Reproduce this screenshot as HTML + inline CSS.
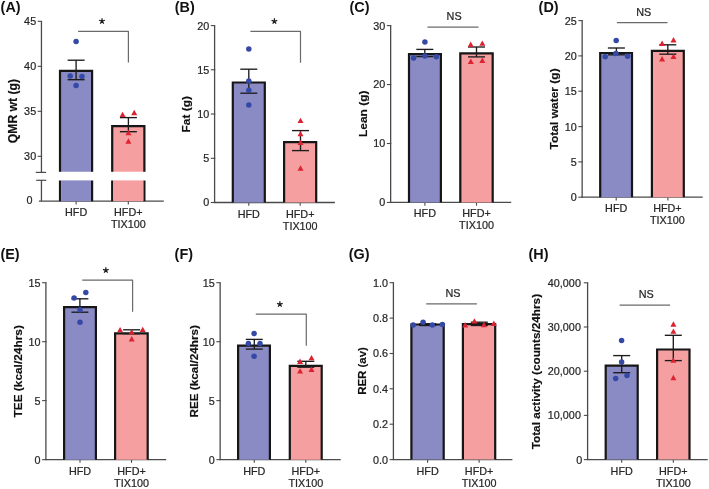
<!DOCTYPE html>
<html><head><meta charset="utf-8"><title>Figure</title>
<style>
html,body{margin:0;padding:0;background:#fff;}
body{width:709px;height:489px;overflow:hidden;}
svg{display:block;will-change:transform;font-family:"Liberation Sans", sans-serif;}
</style></head>
<body>
<svg width="709" height="489" viewBox="0 0 709 489">
<rect width="709" height="489" fill="#fff"/>
<text x="0.6" y="11.6" font-size="14.4" fill="#111" text-anchor="start" font-weight="bold" >(A)</text>
<line x1="41.45" y1="21.3" x2="41.45" y2="172.4" stroke="#4a4a4a" stroke-width="1.3"/>
<line x1="41.45" y1="180.2" x2="41.45" y2="201.2" stroke="#4a4a4a" stroke-width="1.3"/>
<line x1="37.65" y1="21.3" x2="42.1" y2="21.3" stroke="#4a4a4a" stroke-width="1.1"/>
<text transform="translate(36.15 25.2) scale(0.965 1)" font-size="11.2" fill="#262626" text-anchor="end" stroke="#262626" stroke-width="0.22">45</text>
<line x1="37.65" y1="66.3" x2="42.1" y2="66.3" stroke="#4a4a4a" stroke-width="1.1"/>
<text transform="translate(36.15 70.2) scale(0.965 1)" font-size="11.2" fill="#262626" text-anchor="end" stroke="#262626" stroke-width="0.22">40</text>
<line x1="37.65" y1="111.3" x2="42.1" y2="111.3" stroke="#4a4a4a" stroke-width="1.1"/>
<text transform="translate(36.15 115.2) scale(0.965 1)" font-size="11.2" fill="#262626" text-anchor="end" stroke="#262626" stroke-width="0.22">35</text>
<line x1="37.65" y1="156.3" x2="42.1" y2="156.3" stroke="#4a4a4a" stroke-width="1.1"/>
<text transform="translate(36.15 160.2) scale(0.965 1)" font-size="11.2" fill="#262626" text-anchor="end" stroke="#262626" stroke-width="0.22">30</text>
<text transform="translate(32.6 203.8) scale(0.965 1)" font-size="11.2" fill="#262626" text-anchor="end" stroke="#262626" stroke-width="0.22">0</text>
<line x1="35.8" y1="172.4" x2="46.1" y2="172.4" stroke="#4a4a4a" stroke-width="1.2"/>
<line x1="36.2" y1="180.3" x2="46.3" y2="180.3" stroke="#4a4a4a" stroke-width="1.2"/>
<line x1="38.9" y1="201.2" x2="163.8" y2="201.2" stroke="#4a4a4a" stroke-width="1.3"/>
<line x1="76.1" y1="201.2" x2="76.1" y2="204.4" stroke="#4a4a4a" stroke-width="1.1"/>
<line x1="128.3" y1="201.2" x2="128.3" y2="204.4" stroke="#4a4a4a" stroke-width="1.1"/>
<path d="M60 171.8 V70.9 H92.1 V171.8" fill="#8a8ac4" stroke="#161616" stroke-width="2.2"/>
<path d="M60 201.2 V180.4 M92.1 180.4 V201.2" fill="none" stroke="#161616" stroke-width="2.2"/>
<rect x="61.1" y="180.4" width="29.9" height="20.8" fill="#8a8ac4"/>
<path d="M112.2 171.8 V126.1 H144.4 V171.8" fill="#f59fa1" stroke="#161616" stroke-width="2.2"/>
<path d="M112.2 201.2 V180.4 M144.4 180.4 V201.2" fill="none" stroke="#161616" stroke-width="2.2"/>
<rect x="113.3" y="180.4" width="30" height="20.8" fill="#f59fa1"/>
<line x1="76.1" y1="60.2" x2="76.1" y2="79.7" stroke="#1c1c1c" stroke-width="1.35"/>
<line x1="67.6" y1="60.2" x2="84.6" y2="60.2" stroke="#1c1c1c" stroke-width="1.35"/>
<line x1="67.6" y1="79.7" x2="84.6" y2="79.7" stroke="#1c1c1c" stroke-width="1.35"/>
<circle cx="76.1" cy="41.6" r="2.75" fill="#3449a6"/>
<circle cx="70.2" cy="75.9" r="2.75" fill="#3449a6"/>
<circle cx="82" cy="76.5" r="2.75" fill="#3449a6"/>
<circle cx="76.1" cy="85.4" r="2.75" fill="#3449a6"/>
<line x1="128.4" y1="117.6" x2="128.4" y2="131.7" stroke="#1c1c1c" stroke-width="1.35"/>
<line x1="119.9" y1="117.6" x2="136.9" y2="117.6" stroke="#1c1c1c" stroke-width="1.35"/>
<line x1="119.9" y1="131.7" x2="136.9" y2="131.7" stroke="#1c1c1c" stroke-width="1.35"/>
<path d="M122.6 111.7 L125.6 117.1 L119.6 117.1Z" fill="#dd2230"/>
<path d="M134.2 109.8 L137.2 115.2 L131.2 115.2Z" fill="#dd2230"/>
<path d="M128.4 129.9 L131.4 135.3 L125.4 135.3Z" fill="#dd2230"/>
<path d="M128.4 138.3 L131.4 143.7 L125.4 143.7Z" fill="#dd2230"/>
<path d="M78.1 31.35 H128.4 V62.6" fill="none" stroke="#6a6a6a" stroke-width="1.2" stroke-linejoin="round"/>
<path d="M102 21.2 L102 18.2 M102 21.2 L104.85 20.27 M102 21.2 L103.76 23.63 M102 21.2 L100.24 23.63 M102 21.2 L99.15 20.27" stroke="#1e1e1e" stroke-width="1.25" fill="none"/>
<text transform="translate(17.1 111.1) rotate(-90)" x="0" y="0" font-size="12.6" font-weight="bold" fill="#111" stroke="#111" stroke-width="0.15" text-anchor="middle" textLength="64.1" lengthAdjust="spacingAndGlyphs">QMR wt (g)</text>
<text x="76.1" y="216.3" font-size="10.8" fill="#262626" text-anchor="middle" font-weight="normal"  stroke="#262626" stroke-width="0.22">HFD</text>
<text x="128.3" y="216.3" font-size="10.8" fill="#262626" text-anchor="middle" font-weight="normal"  stroke="#262626" stroke-width="0.22">HFD+</text>
<text x="128.3" y="228.4" font-size="10.8" fill="#262626" text-anchor="middle" font-weight="normal"  stroke="#262626" stroke-width="0.22">TIX100</text>
<text x="174.8" y="11.6" font-size="14.4" fill="#111" text-anchor="start" font-weight="bold" >(B)</text>
<line x1="214.6" y1="25.6" x2="214.6" y2="202.5" stroke="#4a4a4a" stroke-width="1.3"/>
<line x1="210.8" y1="25.6" x2="215.25" y2="25.6" stroke="#4a4a4a" stroke-width="1.1"/>
<text transform="translate(209.3 29.5) scale(0.965 1)" font-size="11.2" fill="#262626" text-anchor="end" stroke="#262626" stroke-width="0.22">20</text>
<line x1="210.8" y1="69.8" x2="215.25" y2="69.8" stroke="#4a4a4a" stroke-width="1.1"/>
<text transform="translate(209.3 73.7) scale(0.965 1)" font-size="11.2" fill="#262626" text-anchor="end" stroke="#262626" stroke-width="0.22">15</text>
<line x1="210.8" y1="114" x2="215.25" y2="114" stroke="#4a4a4a" stroke-width="1.1"/>
<text transform="translate(209.3 117.9) scale(0.965 1)" font-size="11.2" fill="#262626" text-anchor="end" stroke="#262626" stroke-width="0.22">10</text>
<line x1="210.8" y1="158.3" x2="215.25" y2="158.3" stroke="#4a4a4a" stroke-width="1.1"/>
<text transform="translate(209.3 162.2) scale(0.965 1)" font-size="11.2" fill="#262626" text-anchor="end" stroke="#262626" stroke-width="0.22">5</text>
<line x1="210.8" y1="202.5" x2="215.25" y2="202.5" stroke="#4a4a4a" stroke-width="1.1"/>
<text transform="translate(209.3 206.4) scale(0.965 1)" font-size="11.2" fill="#262626" text-anchor="end" stroke="#262626" stroke-width="0.22">0</text>
<line x1="214" y1="202.5" x2="334.9" y2="202.5" stroke="#4a4a4a" stroke-width="1.3"/>
<line x1="248.8" y1="202.5" x2="248.8" y2="205.7" stroke="#4a4a4a" stroke-width="1.1"/>
<line x1="300.2" y1="202.5" x2="300.2" y2="205.7" stroke="#4a4a4a" stroke-width="1.1"/>
<path d="M232.8 202.5 V82.5 H264.8 V202.5" fill="#8a8ac4" stroke="#161616" stroke-width="2.2"/>
<path d="M284.1 202.5 V142.1 H316.2 V202.5" fill="#f59fa1" stroke="#161616" stroke-width="2.2"/>
<line x1="248.8" y1="69.2" x2="248.8" y2="93.2" stroke="#1c1c1c" stroke-width="1.35"/>
<line x1="240.3" y1="69.2" x2="257.3" y2="69.2" stroke="#1c1c1c" stroke-width="1.35"/>
<line x1="240.3" y1="93.2" x2="257.3" y2="93.2" stroke="#1c1c1c" stroke-width="1.35"/>
<circle cx="248.8" cy="48.9" r="2.75" fill="#3449a6"/>
<circle cx="248.8" cy="81.1" r="2.75" fill="#3449a6"/>
<circle cx="248.8" cy="90.3" r="2.75" fill="#3449a6"/>
<circle cx="248.8" cy="104.9" r="2.75" fill="#3449a6"/>
<line x1="300.5" y1="130.6" x2="300.5" y2="150.6" stroke="#1c1c1c" stroke-width="1.35"/>
<line x1="292" y1="130.6" x2="309" y2="130.6" stroke="#1c1c1c" stroke-width="1.35"/>
<line x1="292" y1="150.6" x2="309" y2="150.6" stroke="#1c1c1c" stroke-width="1.35"/>
<path d="M300.5 117.7 L303.5 123.1 L297.5 123.1Z" fill="#dd2230"/>
<path d="M300.5 130.9 L303.5 136.3 L297.5 136.3Z" fill="#dd2230"/>
<path d="M300.5 139.5 L303.5 144.9 L297.5 144.9Z" fill="#dd2230"/>
<path d="M300.5 165.3 L303.5 170.7 L297.5 170.7Z" fill="#dd2230"/>
<path d="M250.4 31.4 H300.5 V62.8" fill="none" stroke="#6a6a6a" stroke-width="1.2" stroke-linejoin="round"/>
<path d="M274.4 21.3 L274.4 18.3 M274.4 21.3 L277.25 20.37 M274.4 21.3 L276.16 23.73 M274.4 21.3 L272.64 23.73 M274.4 21.3 L271.55 20.37" stroke="#1e1e1e" stroke-width="1.25" fill="none"/>
<text transform="translate(190.3 114.3) rotate(-90)" x="0" y="0" font-size="11.3" font-weight="bold" fill="#111" stroke="#111" stroke-width="0.15" text-anchor="middle" textLength="36.5" lengthAdjust="spacingAndGlyphs">Fat (g)</text>
<text x="248.8" y="217.5" font-size="10.8" fill="#262626" text-anchor="middle" font-weight="normal"  stroke="#262626" stroke-width="0.22">HFD</text>
<text x="300.2" y="217.5" font-size="10.8" fill="#262626" text-anchor="middle" font-weight="normal"  stroke="#262626" stroke-width="0.22">HFD+</text>
<text x="300.2" y="229.6" font-size="10.8" fill="#262626" text-anchor="middle" font-weight="normal"  stroke="#262626" stroke-width="0.22">TIX100</text>
<text x="349.5" y="11.6" font-size="14.4" fill="#111" text-anchor="start" font-weight="bold" >(C)</text>
<line x1="390.65" y1="25.6" x2="390.65" y2="202.45" stroke="#4a4a4a" stroke-width="1.3"/>
<line x1="386.85" y1="25.6" x2="391.3" y2="25.6" stroke="#4a4a4a" stroke-width="1.1"/>
<text transform="translate(385.35 29.5) scale(0.965 1)" font-size="11.2" fill="#262626" text-anchor="end" stroke="#262626" stroke-width="0.22">30</text>
<line x1="386.85" y1="84.55" x2="391.3" y2="84.55" stroke="#4a4a4a" stroke-width="1.1"/>
<text transform="translate(385.35 88.45) scale(0.965 1)" font-size="11.2" fill="#262626" text-anchor="end" stroke="#262626" stroke-width="0.22">20</text>
<line x1="386.85" y1="143.5" x2="391.3" y2="143.5" stroke="#4a4a4a" stroke-width="1.1"/>
<text transform="translate(385.35 147.4) scale(0.965 1)" font-size="11.2" fill="#262626" text-anchor="end" stroke="#262626" stroke-width="0.22">10</text>
<line x1="386.85" y1="202.45" x2="391.3" y2="202.45" stroke="#4a4a4a" stroke-width="1.1"/>
<text transform="translate(385.35 206.35) scale(0.965 1)" font-size="11.2" fill="#262626" text-anchor="end" stroke="#262626" stroke-width="0.22">0</text>
<line x1="390.05" y1="202.45" x2="511.2" y2="202.45" stroke="#4a4a4a" stroke-width="1.3"/>
<line x1="424.9" y1="202.45" x2="424.9" y2="205.65" stroke="#4a4a4a" stroke-width="1.1"/>
<line x1="476.5" y1="202.45" x2="476.5" y2="205.65" stroke="#4a4a4a" stroke-width="1.1"/>
<path d="M409 202.45 V54.2 H440.9 V202.45" fill="#8a8ac4" stroke="#161616" stroke-width="2.2"/>
<path d="M460.3 202.45 V53.3 H492.7 V202.45" fill="#f59fa1" stroke="#161616" stroke-width="2.2"/>
<line x1="424.8" y1="49.4" x2="424.8" y2="56.6" stroke="#1c1c1c" stroke-width="1.35"/>
<line x1="416.3" y1="49.4" x2="433.3" y2="49.4" stroke="#1c1c1c" stroke-width="1.35"/>
<line x1="416.3" y1="56.6" x2="433.3" y2="56.6" stroke="#1c1c1c" stroke-width="1.35"/>
<circle cx="424.9" cy="41.9" r="2.75" fill="#3449a6"/>
<circle cx="413.6" cy="58" r="2.75" fill="#3449a6"/>
<circle cx="424.9" cy="55.9" r="2.75" fill="#3449a6"/>
<circle cx="436.3" cy="56.8" r="2.75" fill="#3449a6"/>
<line x1="476.5" y1="47" x2="476.5" y2="56.9" stroke="#1c1c1c" stroke-width="1.35"/>
<line x1="468" y1="47" x2="485" y2="47" stroke="#1c1c1c" stroke-width="1.35"/>
<line x1="468" y1="56.9" x2="485" y2="56.9" stroke="#1c1c1c" stroke-width="1.35"/>
<path d="M470.7 41.5 L473.7 46.9 L467.7 46.9Z" fill="#dd2230"/>
<path d="M482.3 40.4 L485.3 45.8 L479.3 45.8Z" fill="#dd2230"/>
<path d="M470.8 58.5 L473.8 63.9 L467.8 63.9Z" fill="#dd2230"/>
<path d="M482.3 57.6 L485.3 63 L479.3 63Z" fill="#dd2230"/>
<line x1="427.5" y1="27.1" x2="478.5" y2="27.1" stroke="#6a6a6a" stroke-width="1.2"/>
<text x="454.1" y="20.1" font-size="10.8" fill="#262626" text-anchor="middle" font-weight="normal"  stroke="#262626" stroke-width="0.22">NS</text>
<text transform="translate(367 113.75) rotate(-90)" x="0" y="0" font-size="11.3" font-weight="bold" fill="#111" stroke="#111" stroke-width="0.15" text-anchor="middle" textLength="46.6" lengthAdjust="spacingAndGlyphs">Lean (g)</text>
<text x="424.9" y="217.3" font-size="10.8" fill="#262626" text-anchor="middle" font-weight="normal"  stroke="#262626" stroke-width="0.22">HFD</text>
<text x="476.5" y="217.3" font-size="10.8" fill="#262626" text-anchor="middle" font-weight="normal"  stroke="#262626" stroke-width="0.22">HFD+</text>
<text x="476.5" y="229.4" font-size="10.8" fill="#262626" text-anchor="middle" font-weight="normal"  stroke="#262626" stroke-width="0.22">TIX100</text>
<text x="538.6" y="11.6" font-size="14.4" fill="#111" text-anchor="start" font-weight="bold" >(D)</text>
<line x1="582.15" y1="20.6" x2="582.15" y2="197.2" stroke="#4a4a4a" stroke-width="1.3"/>
<line x1="578.35" y1="20.6" x2="582.8" y2="20.6" stroke="#4a4a4a" stroke-width="1.1"/>
<text transform="translate(576.85 24.5) scale(0.965 1)" font-size="11.2" fill="#262626" text-anchor="end" stroke="#262626" stroke-width="0.22">25</text>
<line x1="578.35" y1="55.9" x2="582.8" y2="55.9" stroke="#4a4a4a" stroke-width="1.1"/>
<text transform="translate(576.85 59.8) scale(0.965 1)" font-size="11.2" fill="#262626" text-anchor="end" stroke="#262626" stroke-width="0.22">20</text>
<line x1="578.35" y1="91.2" x2="582.8" y2="91.2" stroke="#4a4a4a" stroke-width="1.1"/>
<text transform="translate(576.85 95.1) scale(0.965 1)" font-size="11.2" fill="#262626" text-anchor="end" stroke="#262626" stroke-width="0.22">15</text>
<line x1="578.35" y1="126.6" x2="582.8" y2="126.6" stroke="#4a4a4a" stroke-width="1.1"/>
<text transform="translate(576.85 130.5) scale(0.965 1)" font-size="11.2" fill="#262626" text-anchor="end" stroke="#262626" stroke-width="0.22">10</text>
<line x1="578.35" y1="161.9" x2="582.8" y2="161.9" stroke="#4a4a4a" stroke-width="1.1"/>
<text transform="translate(576.85 165.8) scale(0.965 1)" font-size="11.2" fill="#262626" text-anchor="end" stroke="#262626" stroke-width="0.22">5</text>
<line x1="578.35" y1="197.2" x2="582.8" y2="197.2" stroke="#4a4a4a" stroke-width="1.1"/>
<text transform="translate(576.85 201.1) scale(0.965 1)" font-size="11.2" fill="#262626" text-anchor="end" stroke="#262626" stroke-width="0.22">0</text>
<line x1="581.55" y1="197.2" x2="702.7" y2="197.2" stroke="#4a4a4a" stroke-width="1.3"/>
<line x1="616.2" y1="197.2" x2="616.2" y2="200.4" stroke="#4a4a4a" stroke-width="1.1"/>
<line x1="667.9" y1="197.2" x2="667.9" y2="200.4" stroke="#4a4a4a" stroke-width="1.1"/>
<path d="M600.2 197.2 V53 H632 V197.2" fill="#8a8ac4" stroke="#161616" stroke-width="2.2"/>
<path d="M651.9 197.2 V50.9 H683.8 V197.2" fill="#f59fa1" stroke="#161616" stroke-width="2.2"/>
<line x1="616.4" y1="48" x2="616.4" y2="54.8" stroke="#1c1c1c" stroke-width="1.35"/>
<line x1="607.9" y1="48" x2="624.9" y2="48" stroke="#1c1c1c" stroke-width="1.35"/>
<line x1="607.9" y1="54.8" x2="624.9" y2="54.8" stroke="#1c1c1c" stroke-width="1.35"/>
<circle cx="616.2" cy="40.6" r="2.75" fill="#3449a6"/>
<circle cx="605.2" cy="56.8" r="2.75" fill="#3449a6"/>
<circle cx="615.9" cy="53.5" r="2.75" fill="#3449a6"/>
<circle cx="627.6" cy="56.2" r="2.75" fill="#3449a6"/>
<line x1="667.8" y1="44.8" x2="667.8" y2="54.2" stroke="#1c1c1c" stroke-width="1.35"/>
<line x1="659.3" y1="44.8" x2="676.3" y2="44.8" stroke="#1c1c1c" stroke-width="1.35"/>
<line x1="659.3" y1="54.2" x2="676.3" y2="54.2" stroke="#1c1c1c" stroke-width="1.35"/>
<path d="M662.1 40.5 L665.1 45.9 L659.1 45.9Z" fill="#dd2230"/>
<path d="M673.5 37.1 L676.5 42.5 L670.5 42.5Z" fill="#dd2230"/>
<path d="M662.1 56.1 L665.1 61.5 L659.1 61.5Z" fill="#dd2230"/>
<path d="M673.5 53.7 L676.5 59.1 L670.5 59.1Z" fill="#dd2230"/>
<line x1="616.9" y1="22.7" x2="667.5" y2="22.7" stroke="#6a6a6a" stroke-width="1.2"/>
<text x="643.7" y="15.7" font-size="10.8" fill="#262626" text-anchor="middle" font-weight="normal"  stroke="#262626" stroke-width="0.22">NS</text>
<text transform="translate(558.4 108.9) rotate(-90)" x="0" y="0" font-size="11.3" font-weight="bold" fill="#111" stroke="#111" stroke-width="0.15" text-anchor="middle" textLength="81.1" lengthAdjust="spacingAndGlyphs">Total water (g)</text>
<text x="616.2" y="212.1" font-size="10.8" fill="#262626" text-anchor="middle" font-weight="normal"  stroke="#262626" stroke-width="0.22">HFD</text>
<text x="667.4" y="212.1" font-size="10.8" fill="#262626" text-anchor="middle" font-weight="normal"  stroke="#262626" stroke-width="0.22">HFD+</text>
<text x="667.4" y="224.2" font-size="10.8" fill="#262626" text-anchor="middle" font-weight="normal"  stroke="#262626" stroke-width="0.22">TIX100</text>
<text x="0.4" y="259" font-size="14.4" fill="#111" text-anchor="start" font-weight="bold" >(E)</text>
<line x1="45.9" y1="282.7" x2="45.9" y2="459.65" stroke="#4a4a4a" stroke-width="1.3"/>
<line x1="42.1" y1="282.7" x2="46.55" y2="282.7" stroke="#4a4a4a" stroke-width="1.1"/>
<text transform="translate(40.6 286.6) scale(0.965 1)" font-size="11.2" fill="#262626" text-anchor="end" stroke="#262626" stroke-width="0.22">15</text>
<line x1="42.1" y1="341.7" x2="46.55" y2="341.7" stroke="#4a4a4a" stroke-width="1.1"/>
<text transform="translate(40.6 345.6) scale(0.965 1)" font-size="11.2" fill="#262626" text-anchor="end" stroke="#262626" stroke-width="0.22">10</text>
<line x1="42.1" y1="400.6" x2="46.55" y2="400.6" stroke="#4a4a4a" stroke-width="1.1"/>
<text transform="translate(40.6 404.5) scale(0.965 1)" font-size="11.2" fill="#262626" text-anchor="end" stroke="#262626" stroke-width="0.22">5</text>
<line x1="42.1" y1="459.65" x2="46.55" y2="459.65" stroke="#4a4a4a" stroke-width="1.1"/>
<text transform="translate(40.6 463.55) scale(0.965 1)" font-size="11.2" fill="#262626" text-anchor="end" stroke="#262626" stroke-width="0.22">0</text>
<line x1="45.3" y1="459.65" x2="166.2" y2="459.65" stroke="#4a4a4a" stroke-width="1.3"/>
<line x1="80" y1="459.65" x2="80" y2="462.85" stroke="#4a4a4a" stroke-width="1.1"/>
<line x1="131.5" y1="459.65" x2="131.5" y2="462.85" stroke="#4a4a4a" stroke-width="1.1"/>
<path d="M64.1 459.65 V307.1 H95.9 V459.65" fill="#8a8ac4" stroke="#161616" stroke-width="2.2"/>
<path d="M115.1 459.65 V333.4 H147.7 V459.65" fill="#f59fa1" stroke="#161616" stroke-width="2.2"/>
<line x1="79.9" y1="298.8" x2="79.9" y2="312.2" stroke="#1c1c1c" stroke-width="1.35"/>
<line x1="71.4" y1="298.8" x2="88.4" y2="298.8" stroke="#1c1c1c" stroke-width="1.35"/>
<line x1="71.4" y1="312.2" x2="88.4" y2="312.2" stroke="#1c1c1c" stroke-width="1.35"/>
<circle cx="74.1" cy="297.9" r="2.75" fill="#3449a6"/>
<circle cx="85.8" cy="292.4" r="2.75" fill="#3449a6"/>
<circle cx="80" cy="309.8" r="2.75" fill="#3449a6"/>
<circle cx="80" cy="322.3" r="2.75" fill="#3449a6"/>
<line x1="131.6" y1="329.8" x2="131.6" y2="333.6" stroke="#1c1c1c" stroke-width="1.35"/>
<line x1="123.1" y1="329.8" x2="140.1" y2="329.8" stroke="#1c1c1c" stroke-width="1.35"/>
<line x1="123.1" y1="333.6" x2="140.1" y2="333.6" stroke="#1c1c1c" stroke-width="1.35"/>
<path d="M120.1 326.9 L123.1 332.3 L117.1 332.3Z" fill="#dd2230"/>
<path d="M131.7 329 L134.7 334.4 L128.7 334.4Z" fill="#dd2230"/>
<path d="M142.7 326.7 L145.7 332.1 L139.7 332.1Z" fill="#dd2230"/>
<path d="M131.7 336.1 L134.7 341.5 L128.7 341.5Z" fill="#dd2230"/>
<path d="M82.2 280.1 H132.6 V311.8" fill="none" stroke="#6a6a6a" stroke-width="1.2" stroke-linejoin="round"/>
<path d="M105.85 270.3 L105.85 267.3 M105.85 270.3 L108.7 269.37 M105.85 270.3 L107.61 272.73 M105.85 270.3 L104.09 272.73 M105.85 270.3 L103 269.37" stroke="#1e1e1e" stroke-width="1.25" fill="none"/>
<text transform="translate(22.2 371.35) rotate(-90)" x="0" y="0" font-size="11.3" font-weight="bold" fill="#111" stroke="#111" stroke-width="0.15" text-anchor="middle" textLength="92.4" lengthAdjust="spacingAndGlyphs">TEE (kcal/24hrs)</text>
<text x="80" y="475" font-size="10.8" fill="#262626" text-anchor="middle" font-weight="normal"  stroke="#262626" stroke-width="0.22">HFD</text>
<text x="131.5" y="475" font-size="10.8" fill="#262626" text-anchor="middle" font-weight="normal"  stroke="#262626" stroke-width="0.22">HFD+</text>
<text x="131.5" y="487.1" font-size="10.8" fill="#262626" text-anchor="middle" font-weight="normal"  stroke="#262626" stroke-width="0.22">TIX100</text>
<text x="174.6" y="259" font-size="14.4" fill="#111" text-anchor="start" font-weight="bold" >(F)</text>
<line x1="220.15" y1="282.7" x2="220.15" y2="459.65" stroke="#4a4a4a" stroke-width="1.3"/>
<line x1="216.35" y1="282.7" x2="220.8" y2="282.7" stroke="#4a4a4a" stroke-width="1.1"/>
<text transform="translate(214.85 286.6) scale(0.965 1)" font-size="11.2" fill="#262626" text-anchor="end" stroke="#262626" stroke-width="0.22">15</text>
<line x1="216.35" y1="341.7" x2="220.8" y2="341.7" stroke="#4a4a4a" stroke-width="1.1"/>
<text transform="translate(214.85 345.6) scale(0.965 1)" font-size="11.2" fill="#262626" text-anchor="end" stroke="#262626" stroke-width="0.22">10</text>
<line x1="216.35" y1="400.6" x2="220.8" y2="400.6" stroke="#4a4a4a" stroke-width="1.1"/>
<text transform="translate(214.85 404.5) scale(0.965 1)" font-size="11.2" fill="#262626" text-anchor="end" stroke="#262626" stroke-width="0.22">5</text>
<line x1="216.35" y1="459.65" x2="220.8" y2="459.65" stroke="#4a4a4a" stroke-width="1.1"/>
<text transform="translate(214.85 463.55) scale(0.965 1)" font-size="11.2" fill="#262626" text-anchor="end" stroke="#262626" stroke-width="0.22">0</text>
<line x1="219.55" y1="459.65" x2="340.7" y2="459.65" stroke="#4a4a4a" stroke-width="1.3"/>
<line x1="254.3" y1="459.65" x2="254.3" y2="462.85" stroke="#4a4a4a" stroke-width="1.1"/>
<line x1="305.8" y1="459.65" x2="305.8" y2="462.85" stroke="#4a4a4a" stroke-width="1.1"/>
<path d="M238.1 459.65 V345.7 H269.9 V459.65" fill="#8a8ac4" stroke="#161616" stroke-width="2.2"/>
<path d="M289.8 459.65 V365.9 H321.7 V459.65" fill="#f59fa1" stroke="#161616" stroke-width="2.2"/>
<line x1="254.3" y1="339.4" x2="254.3" y2="349.1" stroke="#1c1c1c" stroke-width="1.35"/>
<line x1="245.8" y1="339.4" x2="262.8" y2="339.4" stroke="#1c1c1c" stroke-width="1.35"/>
<line x1="245.8" y1="349.1" x2="262.8" y2="349.1" stroke="#1c1c1c" stroke-width="1.35"/>
<circle cx="254.1" cy="333.6" r="2.75" fill="#3449a6"/>
<circle cx="248.4" cy="343.6" r="2.75" fill="#3449a6"/>
<circle cx="260" cy="343.6" r="2.75" fill="#3449a6"/>
<circle cx="254.1" cy="356.3" r="2.75" fill="#3449a6"/>
<line x1="305.8" y1="361.3" x2="305.8" y2="367.2" stroke="#1c1c1c" stroke-width="1.35"/>
<line x1="297.3" y1="361.3" x2="314.3" y2="361.3" stroke="#1c1c1c" stroke-width="1.35"/>
<line x1="297.3" y1="367.2" x2="314.3" y2="367.2" stroke="#1c1c1c" stroke-width="1.35"/>
<path d="M300.1 358.6 L303.1 364 L297.1 364Z" fill="#dd2230"/>
<path d="M311.5 354.9 L314.5 360.3 L308.5 360.3Z" fill="#dd2230"/>
<path d="M300.1 368.2 L303.1 373.6 L297.1 373.6Z" fill="#dd2230"/>
<path d="M311.5 366.6 L314.5 372 L308.5 372Z" fill="#dd2230"/>
<path d="M255.8 314.2 H306.3 V345.8" fill="none" stroke="#6a6a6a" stroke-width="1.2" stroke-linejoin="round"/>
<path d="M279.85 304.3 L279.85 301.3 M279.85 304.3 L282.7 303.37 M279.85 304.3 L281.61 306.73 M279.85 304.3 L278.09 306.73 M279.85 304.3 L277 303.37" stroke="#1e1e1e" stroke-width="1.25" fill="none"/>
<text transform="translate(197.6 371.35) rotate(-90)" x="0" y="0" font-size="11.3" font-weight="bold" fill="#111" stroke="#111" stroke-width="0.15" text-anchor="middle" textLength="92.4" lengthAdjust="spacingAndGlyphs">REE (kcal/24hrs)</text>
<text x="254.3" y="475" font-size="10.8" fill="#262626" text-anchor="middle" font-weight="normal"  stroke="#262626" stroke-width="0.22">HFD</text>
<text x="305.8" y="475" font-size="10.8" fill="#262626" text-anchor="middle" font-weight="normal"  stroke="#262626" stroke-width="0.22">HFD+</text>
<text x="305.8" y="487.1" font-size="10.8" fill="#262626" text-anchor="middle" font-weight="normal"  stroke="#262626" stroke-width="0.22">TIX100</text>
<text x="348.7" y="259" font-size="14.4" fill="#111" text-anchor="start" font-weight="bold" >(G)</text>
<line x1="393.4" y1="282.7" x2="393.4" y2="459.6" stroke="#4a4a4a" stroke-width="1.3"/>
<line x1="389.6" y1="282.7" x2="394.05" y2="282.7" stroke="#4a4a4a" stroke-width="1.1"/>
<text transform="translate(388.1 286.6) scale(0.965 1)" font-size="11.2" fill="#262626" text-anchor="end" stroke="#262626" stroke-width="0.22">1.0</text>
<line x1="389.6" y1="318.1" x2="394.05" y2="318.1" stroke="#4a4a4a" stroke-width="1.1"/>
<text transform="translate(388.1 322) scale(0.965 1)" font-size="11.2" fill="#262626" text-anchor="end" stroke="#262626" stroke-width="0.22">0.8</text>
<line x1="389.6" y1="353.5" x2="394.05" y2="353.5" stroke="#4a4a4a" stroke-width="1.1"/>
<text transform="translate(388.1 357.4) scale(0.965 1)" font-size="11.2" fill="#262626" text-anchor="end" stroke="#262626" stroke-width="0.22">0.6</text>
<line x1="389.6" y1="388.8" x2="394.05" y2="388.8" stroke="#4a4a4a" stroke-width="1.1"/>
<text transform="translate(388.1 392.7) scale(0.965 1)" font-size="11.2" fill="#262626" text-anchor="end" stroke="#262626" stroke-width="0.22">0.4</text>
<line x1="389.6" y1="424.2" x2="394.05" y2="424.2" stroke="#4a4a4a" stroke-width="1.1"/>
<text transform="translate(388.1 428.1) scale(0.965 1)" font-size="11.2" fill="#262626" text-anchor="end" stroke="#262626" stroke-width="0.22">0.2</text>
<line x1="389.6" y1="459.6" x2="394.05" y2="459.6" stroke="#4a4a4a" stroke-width="1.1"/>
<text transform="translate(388.1 463.5) scale(0.965 1)" font-size="11.2" fill="#262626" text-anchor="end" stroke="#262626" stroke-width="0.22">0.0</text>
<line x1="392.8" y1="459.6" x2="512.4" y2="459.6" stroke="#4a4a4a" stroke-width="1.3"/>
<line x1="427.6" y1="459.6" x2="427.6" y2="462.8" stroke="#4a4a4a" stroke-width="1.1"/>
<line x1="479.1" y1="459.6" x2="479.1" y2="462.8" stroke="#4a4a4a" stroke-width="1.1"/>
<path d="M411.4 459.6 V324.5 H443.7 V459.6" fill="#8a8ac4" stroke="#161616" stroke-width="2.2"/>
<path d="M462.9 459.6 V324.2 H495.2 V459.6" fill="#f59fa1" stroke="#161616" stroke-width="2.2"/>
<line x1="427.7" y1="323.7" x2="427.7" y2="325.5" stroke="#1c1c1c" stroke-width="1.35"/>
<line x1="419.2" y1="323.7" x2="436.2" y2="323.7" stroke="#1c1c1c" stroke-width="1.35"/>
<line x1="419.2" y1="325.5" x2="436.2" y2="325.5" stroke="#1c1c1c" stroke-width="1.35"/>
<line x1="479.3" y1="322.2" x2="479.3" y2="325.5" stroke="#1c1c1c" stroke-width="1.35"/>
<line x1="470.8" y1="322.2" x2="487.8" y2="322.2" stroke="#1c1c1c" stroke-width="1.35"/>
<line x1="470.8" y1="325.5" x2="487.8" y2="325.5" stroke="#1c1c1c" stroke-width="1.35"/>
<circle cx="413.2" cy="325" r="2.75" fill="#3449a6"/>
<circle cx="423.1" cy="322.2" r="2.75" fill="#3449a6"/>
<circle cx="432.3" cy="325" r="2.75" fill="#3449a6"/>
<circle cx="442.4" cy="324.4" r="2.75" fill="#3449a6"/>
<path d="M465.2 322.1 L468.2 327.5 L462.2 327.5Z" fill="#dd2230"/>
<path d="M474.4 318.2 L477.4 323.6 L471.4 323.6Z" fill="#dd2230"/>
<path d="M483.9 321.8 L486.9 327.2 L480.9 327.2Z" fill="#dd2230"/>
<path d="M493.8 320.6 L496.8 326 L490.8 326Z" fill="#dd2230"/>
<line x1="426.2" y1="303.8" x2="476.9" y2="303.8" stroke="#6a6a6a" stroke-width="1.2"/>
<text x="453" y="296.8" font-size="10.8" fill="#262626" text-anchor="middle" font-weight="normal"  stroke="#262626" stroke-width="0.22">NS</text>
<text transform="translate(366.4 370.95) rotate(-90)" x="0" y="0" font-size="11.3" font-weight="bold" fill="#111" stroke="#111" stroke-width="0.15" text-anchor="middle" textLength="47.6" lengthAdjust="spacingAndGlyphs">RER (av)</text>
<text x="427.6" y="475" font-size="10.8" fill="#262626" text-anchor="middle" font-weight="normal"  stroke="#262626" stroke-width="0.22">HFD</text>
<text x="479.1" y="475" font-size="10.8" fill="#262626" text-anchor="middle" font-weight="normal"  stroke="#262626" stroke-width="0.22">HFD+</text>
<text x="479.1" y="487.1" font-size="10.8" fill="#262626" text-anchor="middle" font-weight="normal"  stroke="#262626" stroke-width="0.22">TIX100</text>
<text x="528.5" y="259" font-size="14.4" fill="#111" text-anchor="start" font-weight="bold" >(H)</text>
<line x1="587.6" y1="282.8" x2="587.6" y2="459.6" stroke="#4a4a4a" stroke-width="1.3"/>
<line x1="583.8" y1="282.8" x2="588.25" y2="282.8" stroke="#4a4a4a" stroke-width="1.1"/>
<text transform="translate(580.9 286.7) scale(0.965 1)" font-size="11.2" fill="#262626" text-anchor="end" stroke="#262626" stroke-width="0.22">40,000</text>
<line x1="583.8" y1="327" x2="588.25" y2="327" stroke="#4a4a4a" stroke-width="1.1"/>
<text transform="translate(580.9 330.9) scale(0.965 1)" font-size="11.2" fill="#262626" text-anchor="end" stroke="#262626" stroke-width="0.22">30,000</text>
<line x1="583.8" y1="371.2" x2="588.25" y2="371.2" stroke="#4a4a4a" stroke-width="1.1"/>
<text transform="translate(580.9 375.1) scale(0.965 1)" font-size="11.2" fill="#262626" text-anchor="end" stroke="#262626" stroke-width="0.22">20,000</text>
<line x1="583.8" y1="415.4" x2="588.25" y2="415.4" stroke="#4a4a4a" stroke-width="1.1"/>
<text transform="translate(580.9 419.3) scale(0.965 1)" font-size="11.2" fill="#262626" text-anchor="end" stroke="#262626" stroke-width="0.22">10,000</text>
<line x1="583.8" y1="459.6" x2="588.25" y2="459.6" stroke="#4a4a4a" stroke-width="1.1"/>
<text transform="translate(582.3 463.5) scale(0.965 1)" font-size="11.2" fill="#262626" text-anchor="end" stroke="#262626" stroke-width="0.22">0</text>
<line x1="587" y1="459.6" x2="707.7" y2="459.6" stroke="#4a4a4a" stroke-width="1.3"/>
<line x1="621.7" y1="459.6" x2="621.7" y2="462.8" stroke="#4a4a4a" stroke-width="1.1"/>
<line x1="673.3" y1="459.6" x2="673.3" y2="462.8" stroke="#4a4a4a" stroke-width="1.1"/>
<path d="M605.7 459.6 V365.6 H637.7 V459.6" fill="#8a8ac4" stroke="#161616" stroke-width="2.2"/>
<path d="M657.1 459.6 V349.5 H689.5 V459.6" fill="#f59fa1" stroke="#161616" stroke-width="2.2"/>
<line x1="621.7" y1="355.6" x2="621.7" y2="372.7" stroke="#1c1c1c" stroke-width="1.35"/>
<line x1="613.2" y1="355.6" x2="630.2" y2="355.6" stroke="#1c1c1c" stroke-width="1.35"/>
<line x1="613.2" y1="372.7" x2="630.2" y2="372.7" stroke="#1c1c1c" stroke-width="1.35"/>
<circle cx="621.6" cy="340.5" r="2.75" fill="#3449a6"/>
<circle cx="621.6" cy="362.1" r="2.75" fill="#3449a6"/>
<circle cx="627" cy="375.6" r="2.75" fill="#3449a6"/>
<circle cx="615.7" cy="378.4" r="2.75" fill="#3449a6"/>
<line x1="673.3" y1="335.3" x2="673.3" y2="360.6" stroke="#1c1c1c" stroke-width="1.35"/>
<line x1="664.8" y1="335.3" x2="681.8" y2="335.3" stroke="#1c1c1c" stroke-width="1.35"/>
<line x1="664.8" y1="360.6" x2="681.8" y2="360.6" stroke="#1c1c1c" stroke-width="1.35"/>
<path d="M673.4 321.3 L676.4 326.7 L670.4 326.7Z" fill="#dd2230"/>
<path d="M673.4 328.4 L676.4 333.8 L670.4 333.8Z" fill="#dd2230"/>
<path d="M673.4 357.4 L676.4 362.8 L670.4 362.8Z" fill="#dd2230"/>
<path d="M673.4 374.8 L676.4 380.2 L670.4 380.2Z" fill="#dd2230"/>
<line x1="619.6" y1="305.1" x2="670.1" y2="305.1" stroke="#6a6a6a" stroke-width="1.2"/>
<text x="646.2" y="298.1" font-size="10.8" fill="#262626" text-anchor="middle" font-weight="normal"  stroke="#262626" stroke-width="0.22">NS</text>
<text transform="translate(539.6 371.65) rotate(-90)" x="0" y="0" font-size="11.3" font-weight="bold" fill="#111" stroke="#111" stroke-width="0.15" text-anchor="middle" textLength="155.4" lengthAdjust="spacingAndGlyphs">Total activity (counts/24hrs)</text>
<text x="621.7" y="475" font-size="10.8" fill="#262626" text-anchor="middle" font-weight="normal"  stroke="#262626" stroke-width="0.22">HFD</text>
<text x="673.3" y="475" font-size="10.8" fill="#262626" text-anchor="middle" font-weight="normal"  stroke="#262626" stroke-width="0.22">HFD+</text>
<text x="673.3" y="487.1" font-size="10.8" fill="#262626" text-anchor="middle" font-weight="normal"  stroke="#262626" stroke-width="0.22">TIX100</text>
</svg>
</body></html>
